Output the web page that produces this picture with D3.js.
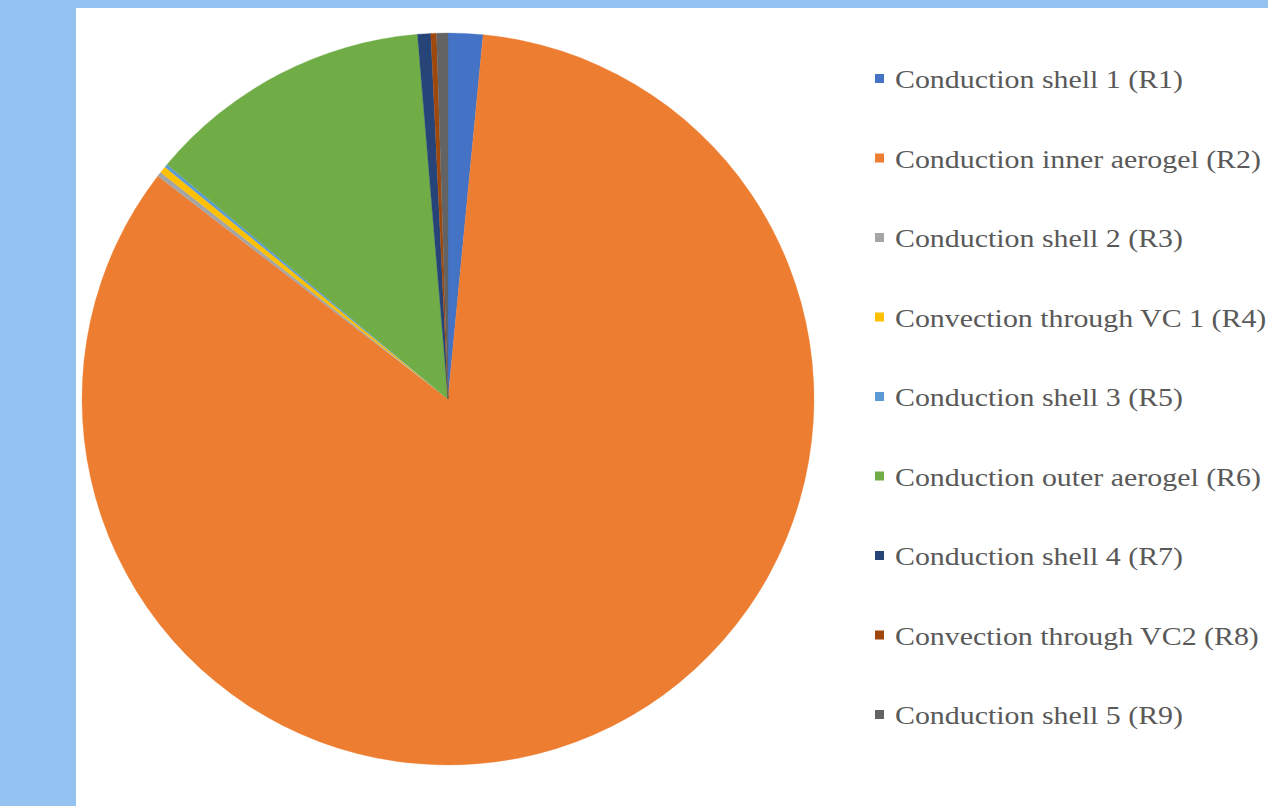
<!DOCTYPE html>
<html>
<head>
<meta charset="utf-8">
<script src="https://cdnjs.cloudflare.com/ajax/libs/d3/7.8.5/d3.min.js"></script>
<style>
  html, body { margin: 0; padding: 0; background: #95c3f1; }
  svg { display: block; }
  .legend text { font-family: "Liberation Serif", "DejaVu Serif", serif; }
</style>
</head>
<body>
<div id="chart"></div>
<script>
// heat resistance share of each path (%)
var labels = [
    "Conduction shell 1 (R1)",
    "Conduction inner aerogel (R2)",
    "Conduction shell 2 (R3)",
    "Convection through VC 1 (R4)",
    "Conduction shell 3 (R5)",
    "Conduction outer aerogel (R6)",
    "Conduction shell 4 (R7)",
    "Convection through VC2 (R8)",
    "Conduction shell 5 (R9)"
];
var values = [1.53, 83.9, 0.2, 0.3, 0.14, 12.6, 0.58, 0.25, 0.5];
var colors = ["#4472c4", "#ed7d31", "#a5a5a5", "#ffc000", "#5b9bd5",
              "#70ad47", "#264478", "#9e480e", "#636363"];

(function() {
    var width = 1268,
        height = 806,
        svg = d3.select("#chart").append("svg")
                .attr("width", width).attr("height", height);

    // white panel over the blue page
    svg.append("rect")
        .attr("x", 76).attr("y", 8)
        .attr("width", width - 76).attr("height", height - 8)
        .attr("fill", "#ffffff");

    var cx = 448, cy = 399, r = 366;

    var pie = d3.pie().sort(null).value(function(d) { return d; });
    var arc = d3.arc().innerRadius(0).outerRadius(r);
    var color = d3.scaleOrdinal().domain(labels).range(colors);

    var g = svg.append("g").attr("transform", "translate(" + cx + "," + cy + ")");
    g.selectAll("path")
        .data(pie(values))
        .enter().append("path")
            .attr("d", arc)
            .attr("fill", function(d, i) { return color(labels[i]); })
            .attr("stroke", function(d, i) { return color(labels[i]); })
            .attr("stroke-width", 0.3);

    // legend, one row per slice
    var rowY = d3.scalePoint().domain(labels).range([80, 716]);

    var legend = svg.append("g").attr("class", "legend");
    var row = legend.selectAll("g")
        .data(labels)
        .enter().append("g")
            .attr("transform", function(d) { return "translate(875," + rowY(d) + ")"; });

    row.append("rect")
        .attr("x", 0).attr("y", -6)
        .attr("width", 9).attr("height", 9)
        .attr("fill", function(d) { return color(d); });

    // the source text is a bit wider than Liberation Serif, so stretch it
    row.append("text")
        .attr("transform", "translate(20,8) scale(1.15,1)")
        .attr("font-size", 26)
        .attr("fill", "#595959")
        .text(function(d) { return d; });
})();
</script>
</body>
</html>
